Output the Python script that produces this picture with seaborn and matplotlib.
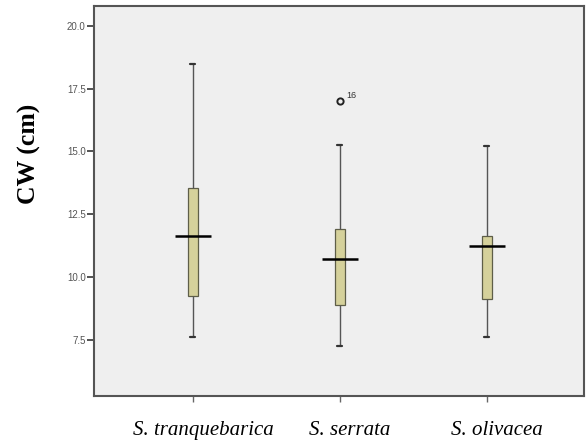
import pandas as pd
import matplotlib.pyplot as plt
import matplotlib.transforms as mtransforms
import seaborn as sns

# Carapace width (cm) summary per species
species = ['S. tranquebarica', 'S. serrata', 'S. olivacea']
whisker_low = [7.60, 7.25, 7.60]
q1 = [9.24, 8.91, 9.12]
median = [11.65, 10.74, 11.25]
q3 = [13.56, 11.91, 11.63]
whisker_high = [18.49, 15.25, 15.23]
outliers = [[], [17.02], []]
outlier_ids = [[], ['16'], []]

# build a small sample per species that reproduces those quartiles/whiskers
rows = []
for i, sp in enumerate(species):
    vals = [whisker_low[i], q1[i], q1[i], median[i], median[i],
            q3[i], q3[i], whisker_high[i]] + outliers[i]
    for v in vals:
        rows.append({'Species': sp, 'CW': v})
df = pd.DataFrame(rows)

sns.set_theme(style="white")
plt.rcParams['font.family'] = ['Liberation Sans', 'DejaVu Sans']

fig = plt.figure(figsize=(5.88, 4.40), dpi=100)
ax = fig.add_axes([0.160, 0.100, 0.833, 0.887])
ax.set_facecolor('#efefef')

sns.boxplot(
    data=df, x='Species', y='CW', order=species, ax=ax,
    width=0.068, whis=1.5,
    color='#d5d19b', saturation=1,
    boxprops=dict(edgecolor='#5e5e48', linewidth=0.9),
    whiskerprops=dict(color='#555555', linewidth=1.0),
    capprops=dict(color='#333333', linewidth=1.6),
    medianprops=dict(linewidth=0),
    flierprops=dict(marker='o', markerfacecolor='none', markeredgecolor='#222222',
                    markersize=4.5, markeredgewidth=1.4),
)
# wide black median bars as in the original
sns.pointplot(
    data=df, x='Species', y='CW', order=species, ax=ax,
    estimator='median', errorbar=None, linestyles='none',
    markers='_', markersize=26, markeredgewidth=1.8, color='black',
)

for i, sp in enumerate(species):
    for v, lab in zip(outliers[i], outlier_ids[i]):
        ax.annotate(lab, xy=(i, v), xytext=(5, 2), textcoords='offset points',
                    fontsize=6.5, color='#333333')

ax.set_xlim(-0.67, 2.66)
ax.set_ylim(5.27, 20.8)
ax.set_yticks([7.5, 10.0, 12.5, 15.0, 17.5, 20.0])
ax.set_yticklabels(['7.5', '10.0', '12.5', '15.0', '17.5', '20.0'])

ax.set_xlabel('')
ax.set_ylabel('CW (cm)', family='Liberation Serif', fontsize=18.5,
              fontweight='bold', color='black')
ax.yaxis.set_label_coords(-0.108, 0.62)

ax.tick_params(axis='y', direction='out', length=5, width=1.3, color='#444444',
               labelsize=7, labelcolor='#555555', pad=1, left=True)
ax.tick_params(axis='x', direction='out', length=4, width=1.0, color='#666666',
               pad=14, bottom=True)
shift = mtransforms.ScaledTranslation(7.5 / 72, 0, fig.dpi_scale_trans)
for t in ax.get_xticklabels():
    t.set_family('Liberation Serif')
    t.set_style('italic')
    t.set_fontsize(15)
    t.set_color('black')
    t.set_transform(t.get_transform() + shift)

for s in ax.spines.values():
    s.set_color('#555555')
    s.set_linewidth(1.5)

fig.savefig('out.png', dpi=100)
